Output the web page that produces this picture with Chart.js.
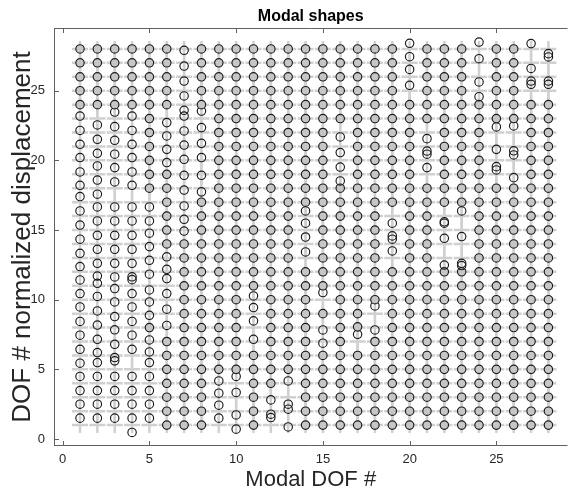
<!DOCTYPE html>
<html><head><meta charset="utf-8">
<script src="https://cdn.jsdelivr.net/npm/chart.js@4.4.0/dist/chart.umd.min.js"></script>
<style>html,body{margin:0;padding:0;background:#fff}</style>
</head><body>
<canvas id="c" width="578" height="491"></canvas>
<script>
// ---- data ----
const modalDOF = [1,2,3,4,5,6,7,8,9,10,11,12,13,14,15,16,17,18,19,20,21,22,23,24,25,26,27,28];
const dofNumbers = [1,2,3,4,5,6,7,8,9,10,11,12,13,14,15,16,17,18,19,20,21,22,23,24,25,26,27,28];
const xTickValues = [0,5,10,15,20,25];
const yTickValues = [0,5,10,15,20,25];

// DOF # + normalized displacement, for DOF 1..28, one array per modal DOF
const mode1  = [1.5,2.5,3.48,4.49,5.44,6.44,7.45,8.44,9.48,10.44,11.42,12.38,13.33,14.34,15.36,16.37,17.4,18.21,19.17,20.2,21.15,22.15,23.18,24,25,26,27,28];
const mode2  = [1.5,2.5,3.48,4.49,5.49,6.21,7.16,8.18,9.19,10.23,11.18,11.7,12.61,13.62,14.62,15.65,16.66,17.57,18.59,19.6,20.51,21.51,22.54,24,25,26,27,28];
const mode3  = [1.5,2.5,3.48,4.49,5.61,5.85,6.8,7.84,8.79,9.84,10.8,11.63,12.61,13.62,14.62,15.65,16.66,18.45,19.48,20.44,21.44,22.42,23.47,24,25,26,27,28];
const mode4  = [0.47,1.5,2.5,3.48,4.49,6.44,7.45,8.44,9.48,10.44,11.44,11.64,12.61,13.62,14.62,15.65,16.66,18.21,19.17,20.2,21.15,22.15,23.18,24,25,26,27,28];
const mode5  = [1.5,2.5,3.48,4.49,5.49,6.25,7.11,8,8.88,9.84,10.7,11.83,12.83,13.81,14.77,15.65,16.66,18,19,20,21,22,23,24,25,26,27,28];
const mode6  = [1,2,3,4,5,6,7,8.15,9.32,10.44,11.52,12.18,13.08,14,15,16,17,18,19,19.84,20.79,21.75,22.71,24,25,26,27,28];
const mode7  = [1,2,3,4,5,6,7,8,9,10,11,12,13,14,14.93,15.77,16.73,17.87,18.93,20.08,21.1,22.11,23.18,23.59,24.62,25.69,26.77,27.9];
const mode8  = [1,2,3,4,5,6,7,8,9,10,11,12,13,14,15,16,17,17.74,18.93,20.2,21.22,22.35,23.54,24,25,26,27,28];
const mode9  = [1.5,2.43,3.29,4.17,5,6,7,8,9,10,11,12,13,14,15,16,17,18,19,20,21,22,23,24,25,26,27,28];
const mode10 = [0.71,1.73,3.34,4.49,5,6,7,8,9,10,11,12,13,14,15,16,17,18,19,20,21,22,23,24,25,26,27,28];
const mode11 = [1,2,3,4,5,6,7.16,8.48,9.44,10.27,11,12,13,14,15,16,17,18,19,20,21,22,23,24,25,26,27,28];
const mode12 = [1.54,1.78,2.81,4,5,6,7,8,9,10,11,12,13,14,15,16,17,18,19,20,21,22,23,24,25,26,27,28];
const mode13 = [0.87,2.14,2.5,4.17,5,6,7,8,9,10,11,12,13,14,15,16,17,18,19,20,21,22,23,24,25,26,27,28];
const mode14 = [1,2,3,4,5,6,7,8,9,10,11,12,13.43,14.5,15.49,16.37,17,18,19,20,21,22,23,24,25,26,27,28];
const mode15 = [1,2,3,4,5,6,6.88,7.83,9,10.51,11,12,13,14,15,16,17,18,19,20,21,22,23,24,25,26,27,28];
const mode16 = [1,2,3,4,5,6,7,8,9,10,11,12,13,14,15,16,17,18,18.52,19.52,20.56,21.68,23,24,25,26,27,28];
const mode17 = [1,2,3,4,5,6,7.52,8.05,9,10,11,12,13,14,15,16,17,18,19,20,21,22,23,24,25,26,27,28];
const mode18 = [1,2,3,4,5,6,7,7.83,9.55,10,11,12,13,14,15,16,17,18,19,20,21,22,23,24,25,26,27,28];
const mode19 = [1,2,3,4,5,6,7,8,9,10,11,12,13.5,14.34,14.58,15.49,17,18,19,20,21,22,23,24,25,26,27,28];
const mode20 = [1,2,3,4,5,6,7,8,9,10,11,12,13,14,15,16,17,18,19,20,21,22,23,24,25.39,26.53,27.44,28.4];
const mode21 = [1,2,3,4,5,6,7,8,9,10,11,12,13,14,15,16,17,18,19.48,20.44,20.67,21.56,23,24,25,26,27,28];
const mode22 = [1,2,3,4,5,6,7,8,9,10,11,12,12.49,14.41,15.49,15.59,17,18,19,20,21,22,23,24,25,26,27,28];
const mode23 = [1,2,3,4,5,6,7,8,9,10,11,12,12.45,12.61,14.53,16.37,17,18,19,20,21,22,23,24,25,26,27,28];
const mode24 = [1,2,3,4,5,6,7,8,9,10,11,12,13,14,15,16,17,18,19,20,21,22,23,24,24.57,25.63,27.3,28.49];
const mode25 = [1,2,3,4,5,6,7,8,9,10,11,12,13,14,15,16,17,18,19.31,19.55,20.79,22.4,23,24,25,26,27,28];
const mode26 = [1,2,3,4,5,6,7,8,9,10,11,12,13,14,15,16,17,18,18.76,20.39,20.69,22.47,23,24,25,26,27,28];
const mode27 = [1,2,3,4,5,6,7,8,9,10,11,12,13,14,15,16,17,18,19,20,21,22,23,24,25.46,25.69,26.6,28.38];
const mode28 = [1,2,3,4,5,6,7,8,9,10,11,12,13,14,15,16,17,18,19,20,21,22,23,24,25.46,25.69,27.42,27.66];

const modeShapes = [mode1,mode2,mode3,mode4,mode5,mode6,mode7,mode8,mode9,mode10,mode11,mode12,mode13,mode14,
                    mode15,mode16,mode17,mode18,mode19,mode20,mode21,mode22,mode23,mode24,mode25,mode26,mode27,mode28];

// ---- chart ----
const FONT = "'Liberation Sans', Arial, Helvetica, sans-serif";
const GRAY = 'rgb(208,208,208)';
const datasets = [];

// deformed shape markers (drawn on top)
const circlePts = [];
modalDOF.forEach((m, i) => modeShapes[i].forEach(v => circlePts.push({x: m, y: v})));
datasets.push({
  label: 'deformed', data: circlePts, order: 0, showLine: false,
  pointStyle: 'circle', pointRadius: 4.2, pointBorderWidth: 1.15,
  pointBorderColor: '#1a1a1a',
  pointBackgroundColor: ctx => {
    const v = ctx.raw ? ctx.raw.y : 0;
    return Math.abs(v - Math.round(v)) < 0.07 ? 'rgb(198,198,198)' : 'rgba(255,255,255,0)';
  }
});

// undeformed grid: gray line with + markers per modal DOF
modalDOF.forEach(m => {
  datasets.push({
    label: 'undeformed ' + m, data: dofNumbers.map(j => ({x: m, y: j})), order: 1,
    showLine: true, borderColor: GRAY, borderWidth: 2, fill: false,
    pointStyle: 'cross', pointRadius: 8, pointBorderWidth: 2.5,
    pointBorderColor: GRAY, pointBackgroundColor: GRAY
  });
});

const framePlugin = {
  id: 'frame',
  afterDraw(chart) {
    const {ctx, chartArea: a, scales} = chart;
    ctx.save();
    ctx.strokeStyle = '#606060';
    ctx.lineWidth = 1;
    ctx.beginPath();
    ctx.moveTo(a.left + 0.5, a.top + 0.5); ctx.lineTo(a.left + 0.5, a.bottom - 0.5);
    ctx.moveTo(a.left, a.bottom - 0.5); ctx.lineTo(a.right, a.bottom - 0.5);
    ctx.moveTo(a.left, a.top + 0.5); ctx.lineTo(a.right, a.top + 0.5);
    const tl = 5;
    xTickValues.forEach(v => {
      const px = Math.round(scales.x.getPixelForValue(v)) + 0.5;
      ctx.moveTo(px, a.bottom); ctx.lineTo(px, a.bottom - tl);
      ctx.moveTo(px, a.top); ctx.lineTo(px, a.top + tl);
    });
    yTickValues.forEach(v => {
      const py = Math.round(scales.y.getPixelForValue(v)) + 0.5;
      ctx.moveTo(a.left, py); ctx.lineTo(a.left + tl, py);
    });
    ctx.stroke();
    ctx.restore();
  }
};

new Chart(document.getElementById('c'), {
  type: 'scatter',
  data: { datasets },
  options: {
    responsive: false, animation: false, devicePixelRatio: 1,
    layout: { padding: { left: 0, right: 0, top: 0, bottom: 0 } },
    plugins: {
      legend: { display: false },
      tooltip: { enabled: false },
      title: {
        display: true, text: 'Modal shapes', fullSize: false, color: '#000',
        font: { family: FONT, size: 16, weight: 'bold', lineHeight: 1 },
        padding: { top: 9, bottom: 3 }
      }
    },
    scales: {
      x: {
        type: 'linear', min: -0.5, max: 29.1,
        afterBuildTicks: s => { s.ticks = xTickValues.map(v => ({value: v})); },
        afterFit: s => { s.height = 45; },
        grid: { display: false, drawTicks: false },
        border: { display: false },
        ticks: { color: '#262626', padding: 6, maxRotation: 0, autoSkip: false,
                 font: { family: FONT, size: 13 } },
        title: { display: true, text: 'Modal DOF #', color: '#262626',
                 font: { family: FONT, size: 22, lineHeight: 1 }, padding: { top: 0, bottom: 0 } }
      },
      y: {
        type: 'linear', min: -0.5, max: 29.5,
        afterBuildTicks: s => { s.ticks = yTickValues.map(v => ({value: v})); },
        afterFit: s => { s.width = 54; },
        grid: { display: false, drawTicks: false },
        border: { display: false },
        ticks: { color: '#262626', padding: 9, autoSkip: false,
                 font: { family: FONT, size: 13 } },
        title: { display: true, text: 'DOF # normalized displacement', color: '#262626',
                 font: { family: FONT, size: 26, lineHeight: 1 }, padding: { top: 10, bottom: 0 } }
      }
    }
  },
  plugins: [framePlugin]
});
</script>
</body></html>
